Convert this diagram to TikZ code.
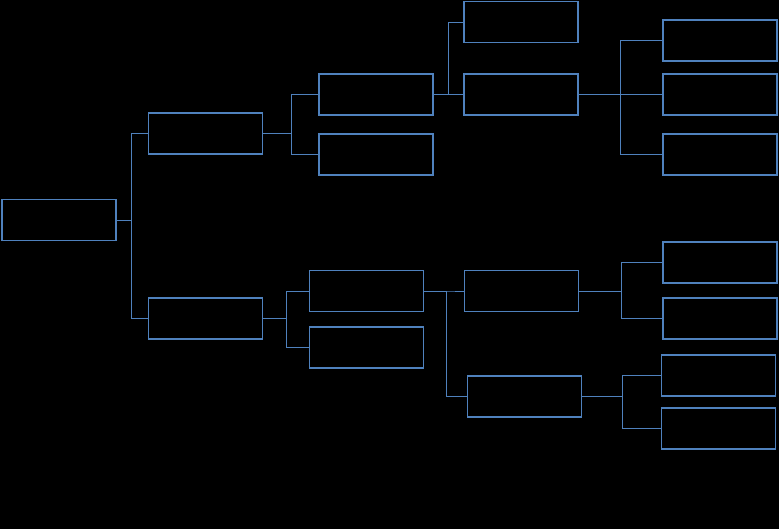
\documentclass[tikz,border=0pt]{standalone}
\usetikzlibrary{positioning}
\definecolor{boxblue}{HTML}{4F81BD}
\tikzset{
  box/.style={draw=boxblue, line width=1.6pt, minimum width=114pt, minimum height=41pt, inner sep=0pt},
  link/.style={draw=boxblue, line width=0.8pt}
}
\begin{document}
\begin{tikzpicture}[x=1pt,y=-1pt]
\fill[black] (0,0) rectangle (779,529);
\useasboundingbox (0,0) rectangle (779,529);

\node[box] (root) at (59,220) {};
\node[box] (a) at (205.5,133.5) {};
\node[box] (b) at (205.5,318.5) {};
\node[box] (a1) at (376,94.5) {};
\node[box] (a2) at (376,154.5) {};
\node[box] (a1a) at (521,22) {};
\node[box] (a1b) at (521,94.5) {};
\node[box] (a1b1) at (720,40.5) {};
\node[box] (a1b2) at (720,94.5) {};
\node[box] (a1b3) at (720,154.5) {};
\node[box] (b1) at (366.5,291) {};
\node[box] (b2) at (366.5,347.5) {};
\node[box] (b1a) at (521.5,291) {};
\node[box] (b1b) at (524.5,396.5) {};
\node[box] (b1a1) at (720,262.5) {};
\node[box] (b1a2) at (720,318.5) {};
\node[box] (b1b1) at (718.5,375.5) {};
\node[box] (b1b2) at (718.5,428.5) {};

% elbow connectors: parent, bus offset, children
\foreach \p/\d/\kids in {root/15/{a,b}, a/28/{a1,a2}, a1/15/{a1a,a1b},
    a1b/42/{a1b1,a1b2,a1b3}, b/23/{b1,b2}, b1/22/{b1a,b1b},
    b1a/42/{b1a1,b1a2}, b1b/40/{b1b1,b1b2}}
  \foreach \c in \kids
    \draw[link] (\p.east) -- ++(\d,0) |- (\c.west);
\end{tikzpicture}
\end{document}
